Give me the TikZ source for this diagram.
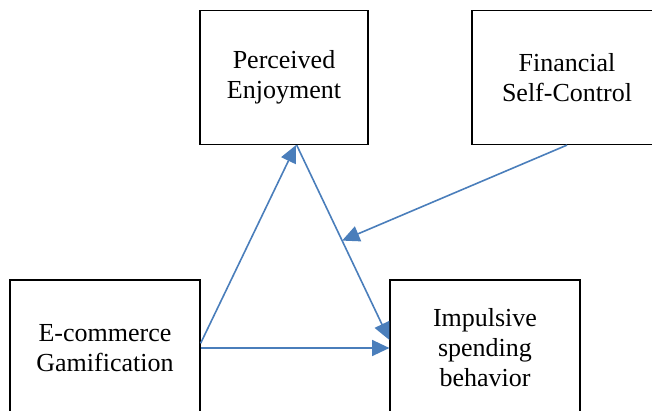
\documentclass[tikz,border=0pt]{standalone}
\usepackage{fontspec}
\setmainfont{Liberation Serif}
\usetikzlibrary{arrows.meta}

\definecolor{linkblue}{HTML}{4A7EBB}

\begin{document}
\begin{tikzpicture}[
    x=0.75pt, y=0.75pt,
    concept/.style={rectangle, draw=black, line width=0.9pt, fill=white,
        minimum width=142.5pt, minimum height=102pt, inner sep=2pt,
        align=center, font=\fontsize{19.5}{22.5}\selectfont},
    link/.style={draw=linkblue, line width=1.2pt,
        -{Triangle[length=13pt, width=12pt]}}
]
    \clip (0,0) rectangle (652,410);
    \node[concept, minimum width=126pt, minimum height=100.5pt] (enjoy) at (284,332.5) {Perceived\\Enjoyment};
    \node[concept, minimum height=100.5pt] (control) at (567,332.5) {Financial\\Self-Control};
    \node[concept] (gamif) at (105,62) {E-commerce\\Gamification};
    \node[concept] (impulse) at (485,62) {Impulsive\\spending\\behavior};
    \draw[link] ([yshift=3.5pt]gamif.east) -- ([xshift=9pt]enjoy.south);
    \draw[link] (gamif.east) -- (impulse.west);
    \draw[link] ([xshift=9.5pt]enjoy.south) -- coordinate[pos=0.49] (mid) ([yshift=6pt]impulse.west);
    \draw[link] (control.south) -- (mid);
\end{tikzpicture}
\end{document}
